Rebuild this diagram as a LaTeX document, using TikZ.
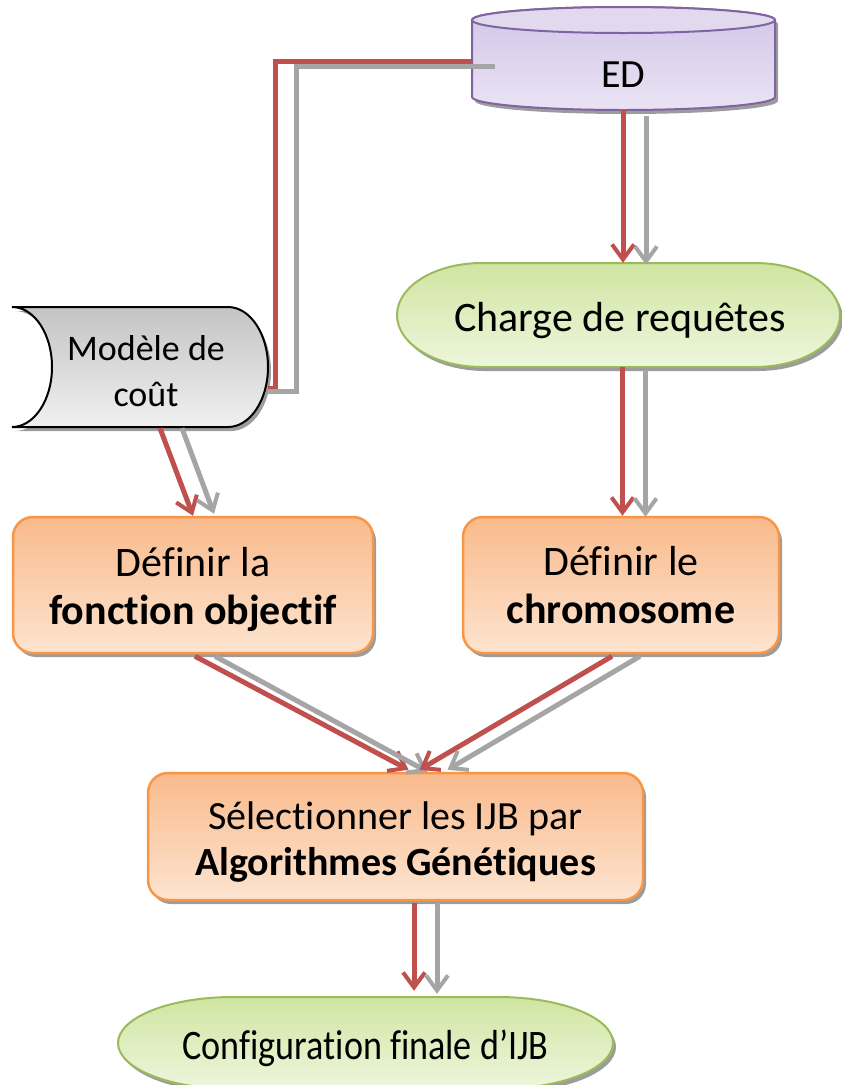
\documentclass[tikz,border=0pt]{standalone}
\usepackage{fontspec}
\usepackage{graphicx}
\setmainfont{Carlito}[Ligatures=NoCommon]
\usetikzlibrary{arrows.meta,shadows,backgrounds,calc}
\definecolor{cred}{HTML}{C0504D}
\definecolor{cgray}{HTML}{A5A5A5}
\definecolor{shadowc}{HTML}{9C9C9C}
\definecolor{edB}{HTML}{8064A2}
\definecolor{edT}{HTML}{D2C5E7}
\definecolor{edL}{HTML}{EAE3F4}
\definecolor{edTop}{HTML}{E2D9EF}
\definecolor{grB}{HTML}{9BBB59}
\definecolor{grT}{HTML}{D0E5A2}
\definecolor{grL}{HTML}{EEF6DC}
\definecolor{orB}{HTML}{F79646}
\definecolor{orT}{HTML}{F9BA8C}
\definecolor{orL}{HTML}{FDE4D0}
\definecolor{gyT}{HTML}{C4C4C4}
\definecolor{gyL}{HTML}{F0F0F0}
\newcommand\mydown[2]{\raisebox{-#1}[\height][\depth]{#2}}
\newcommand\mytwo[3]{\mydown{#1}{\begin{tabular}{@{}c@{}}#2\\#3\end{tabular}}}
\begin{document}
\begin{tikzpicture}[x=1pt,y=1pt,
  lbl/.style={font=\fontsize{42}{48}\selectfont, align=center, inner sep=0pt},
  shad/.style={drop shadow={shadow xshift=3pt, shadow yshift=-4pt, fill=shadowc, opacity=1}},
  obox/.style={lbl, draw=orB, line width=2.5pt, rounded corners=20pt,
    top color=orT, bottom color=orL, shad},
  edshape/.style={draw=edB, line width=2pt, top color=edT, bottom color=edL, shad},
  grshape/.style={draw=grB, line width=2pt, top color=grT, bottom color=grL, shad},
  gyshape/.style={draw=black, line width=2pt, top color=gyT, bottom color=gyL, shad},
  rline/.style={draw=cred, line width=5pt},
  gline/.style={draw=cgray, line width=5pt},
  vhead/.style={-{Straight Barb[length=15pt,width=22pt,line width=4pt]}}
]
\useasboundingbox (0,0) rectangle (842,-1085);

% ---------- nodes (text + anchors) ----------
\node[lbl, font=\fontsize{40}{48}\selectfont, minimum width=303pt, minimum height=74pt] (ed) at (623.5,-73) {\mydown{2pt}{ED}};
\node[lbl, minimum width=443pt, minimum height=104pt] (charge) at (620,-315) {\mydown{6pt}{Charge de requêtes}};
\node[lbl, font=\fontsize{36}{46}\selectfont, minimum width=244pt, minimum height=120pt] (mc) at (146,-367) {\mytwo{7pt}{Modèle de}{coût}};
\node[obox, minimum width=360pt, minimum height=136pt] (fo) at (193,-585) {\mytwo{6pt}{Définir la}{\textbf{fonction objectif}}};
\node[obox, minimum width=316pt, minimum height=136pt] (ch) at (621,-585) {\mytwo{5pt}{Définir le}{\textbf{chromosome}}};
\node[obox, font=\fontsize{40}{46}\selectfont, minimum width=495pt, minimum height=127pt] (sel) at (395.5,-836.5) {\mytwo{7pt}{Sélectionner les IJB par}{\textbf{Algorithmes Génétiques}}};
\node[lbl, minimum width=495pt, minimum height=102pt] (conf) at (365.5,-1048) {\scalebox{0.86}[1]{Configuration finale d’IJB}};

% ---------- shapes behind ----------
\begin{scope}[on background layer]
  % ED cylinder
  \path[edshape] (472,-20) -- (472,-97) arc[start angle=180,end angle=360,x radius=151.5,y radius=13]
    -- (775,-20) arc[start angle=0,end angle=180,x radius=151.5,y radius=13] -- cycle;
  \draw[draw=edB, line width=2pt, fill=edTop] (623.5,-20) ellipse[x radius=151.5, y radius=13];
  % Charge de requetes
  \path[grshape] (482,-263) -- (755,-263) arc[start angle=90,end angle=-90,x radius=85,y radius=52]
    -- (482,-367) arc[start angle=270,end angle=90,x radius=85,y radius=52] -- cycle;
  % Modele de cout (stored data)
  \path[gyshape] (12,-307) -- (228,-307) arc[start angle=90,end angle=-90,x radius=40,y radius=60]
    -- (12,-427) arc[start angle=-90,end angle=90,x radius=40,y radius=60] -- cycle;
  % Configuration finale
  \path[grshape] (233,-997) -- (498,-997) arc[start angle=90,end angle=-90,x radius=115,y radius=46]
    -- (233,-1089) arc[start angle=270,end angle=90,x radius=115,y radius=46] -- cycle;
\end{scope}

% ---------- connectors ----------
% ED -> Modele de cout
\draw[rline] ([yshift=12pt]ed.west) -| ([xshift=7pt,yshift=-21pt]mc.east) -- ([yshift=-21pt]mc.east);
\draw[gline] ($(ed.west)+(23,7)$) -| ([xshift=28pt,yshift=-24pt]mc.east) -- ([yshift=-24pt]mc.east);
% ED -> Charge
\draw[rline, vhead] ($(ed.south)+(-0.5,0)$) -- ($(ed.south |- charge.north)+(-0.5,0)$);
\draw[gline, vhead] ($(ed.south)+(22.5,-6)$) -- ($(ed.south |- charge.north)+(22.5,-2)$);
% Charge -> chromosome
\draw[rline, vhead] ($(charge.south)+(2.5,0)$) -- ($(ch.north)+(1.5,0)$);
\draw[gline, vhead] ($(charge.south)+(25.5,-3)$) -- ($(ch.north)+(24.5,-1)$);
% Modele -> fonction objectif
\draw[rline, vhead] ($(mc.south)+(14,-1)$) -- ($(fo.north)+(0,0)$);
\draw[gline, vhead] ($(mc.south)+(36,-1)$) -- ($(fo.north)+(21,2)$);
% fonction objectif -> Selectionner
\draw[rline, vhead] ($(fo.south)+(2,-2)$) -- ($(sel.north)+(13,2)$);
\draw[gline, vhead] ($(fo.south)+(22,-2)$) -- ($(sel.north)+(32,0)$);
% chromosome -> Selectionner
\draw[rline, vhead] ($(ch.south)+(-9,-2)$) -- ($(sel.north)+(24,2)$);
\draw[gline, vhead] ($(ch.south)+(19,-2)$) -- ($(sel.north)+(52,2)$);
% Selectionner -> Configuration
\draw[rline, vhead] ($(sel.south)+(18.5,-2)$) -- ($(conf.north)+(48.5,6)$);
\draw[gline, vhead] ($(sel.south)+(41.5,-2)$) -- ($(conf.north)+(71.5,3)$);
\end{tikzpicture}
\end{document}
